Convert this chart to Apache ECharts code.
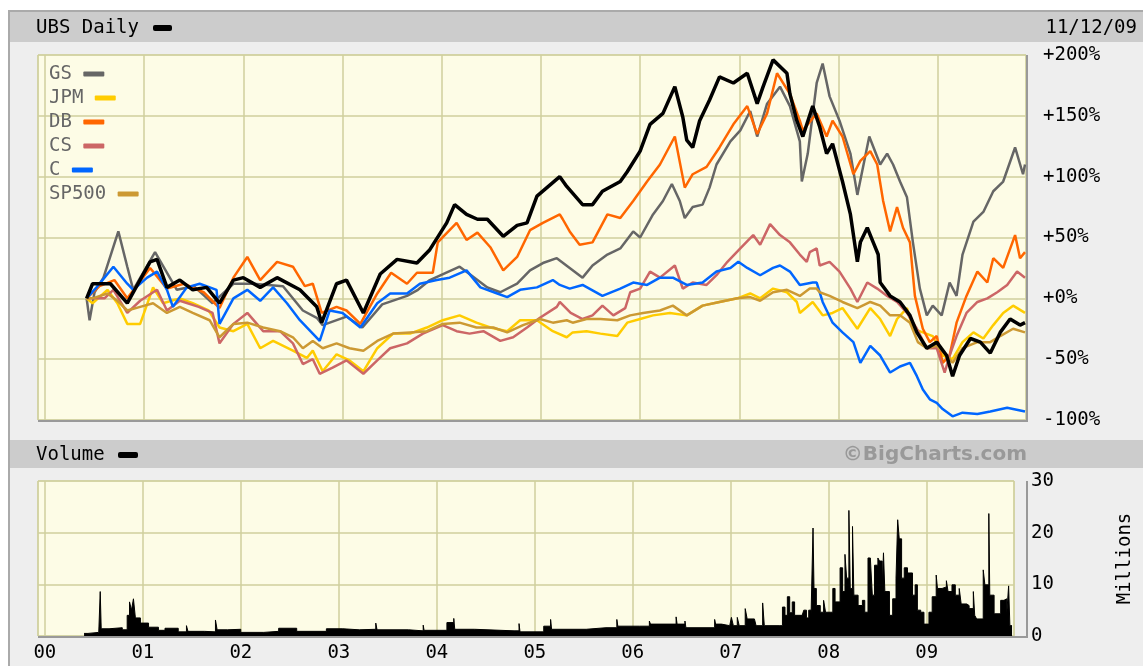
<!DOCTYPE html>
<html>
<head>
<meta charset="utf-8">
<title>UBS Daily</title>
<script src="https://cdn.jsdelivr.net/npm/echarts@6/dist/echarts.min.js"></script>
<style>
  html, body { margin: 0; padding: 0; background: #fff; }
  #frame { position: absolute; left: 8px; top: 10px; width: 1140px; height: 660px;
           background: #eeeeee; border-left: 2px solid #aaa; border-top: 2px solid #aaa; }
  #chart { position: absolute; left: 0; top: 0; width: 1143px; height: 666px; }
</style>
</head>
<body>
<div id="frame"></div>
<div id="chart"></div>
<script>
// percent change since listing, [decimal year, %]
const ubs = [[2000.42,0],[2000.48,12],[2000.66,12],[2000.83,-4],[2001.06,30],[2001.13,32],[2001.23,9],[2001.36,15],[2001.49,7],[2001.63,9],[2001.76,-4],[2001.90,15],[2002.00,17],[2002.17,9],[2002.34,17],[2002.57,7],[2002.74,-7],[2002.79,-20],[2002.94,12],[2003.04,15],[2003.21,-12],[2003.38,20],[2003.55,32],[2003.75,29],[2003.88,40],[2004.05,62],[2004.13,77],[2004.25,69],[2004.36,65],[2004.46,65],[2004.62,51],[2004.76,60],[2004.86,62],[2004.96,84],[2005.19,100],[2005.26,92],[2005.42,77],[2005.52,77],[2005.62,88],[2005.80,96],[2005.87,104],[2006.00,121],[2006.10,143],[2006.23,152],[2006.35,174],[2006.43,149],[2006.47,130],[2006.53,124],[2006.60,146],[2006.70,163],[2006.80,182],[2006.94,177],[2007.08,185],[2007.18,160],[2007.24,174],[2007.34,196],[2007.48,185],[2007.51,168],[2007.58,146],[2007.64,133],[2007.74,158],[2007.81,141],[2007.88,119],[2007.94,127],[2008.04,96],[2008.12,69],[2008.19,30],[2008.22,46],[2008.29,58],[2008.35,46],[2008.40,36],[2008.42,13],[2008.52,2],[2008.62,-3],[2008.72,-14],[2008.79,-28],[2008.89,-41],[2008.99,-36],[2009.09,-47],[2009.15,-64],[2009.22,-47],[2009.33,-33],[2009.43,-36],[2009.53,-45],[2009.63,-28],[2009.73,-17],[2009.83,-22],[2009.88,-20]];

const gs = [[2000.42,0],[2000.45,-18],[2000.50,5],[2000.59,17],[2000.74,55],[2000.83,26],[2000.89,7],[2001.11,38],[2001.33,7],[2001.50,10],[2001.69,-4],[2001.90,12],[2002.10,12],[2002.40,10],[2002.60,-10],[2002.74,-16],[2002.80,-22],[2003.04,-15],[2003.20,-24],[2003.40,-5],[2003.65,2],[2003.76,7],[2003.88,15],[2004.18,26],[2004.28,20],[2004.46,9],[2004.59,5],[2004.76,12],[2004.89,23],[2005.02,29],[2005.16,33],[2005.29,25],[2005.42,17],[2005.52,27],[2005.67,36],[2005.80,41],[2005.93,55],[2006.00,50],[2006.13,69],[2006.23,80],[2006.32,94],[2006.40,80],[2006.45,66],[2006.53,75],[2006.63,77],[2006.70,91],[2006.77,110],[2006.91,129],[2007.01,138],[2007.11,154],[2007.18,133],[2007.28,160],[2007.41,174],[2007.51,158],[2007.61,129],[2007.63,96],[2007.69,119],[2007.78,177],[2007.84,193],[2007.91,166],[2008.01,146],[2008.12,119],[2008.19,85],[2008.31,133],[2008.42,110],[2008.49,119],[2008.55,110],[2008.62,96],[2008.69,83],[2008.75,46],[2008.82,8],[2008.89,-14],[2008.95,-6],[2009.04,-14],[2009.12,13],[2009.19,2],[2009.25,36],[2009.36,63],[2009.46,71],[2009.56,88],[2009.66,96],[2009.78,124],[2009.86,102],[2009.88,110]];

const jpm = [[2000.42,0],[2000.48,-4],[2000.63,7],[2000.73,-4],[2000.83,-21],[2000.96,-21],[2001.09,9],[2001.19,-4],[2001.36,0],[2001.49,-4],[2001.65,-10],[2001.76,-24],[2001.90,-27],[2002.04,-21],[2002.17,-41],[2002.30,-35],[2002.50,-43],[2002.64,-49],[2002.70,-43],[2002.80,-60],[2002.94,-46],[2003.07,-51],[2003.21,-60],[2003.35,-41],[2003.51,-29],[2003.68,-29],[2003.85,-24],[2004.01,-18],[2004.18,-14],[2004.35,-20],[2004.49,-24],[2004.66,-27],[2004.79,-18],[2004.96,-18],[2005.12,-27],[2005.26,-32],[2005.32,-28],[2005.46,-27],[2005.60,-29],[2005.77,-31],[2005.87,-20],[2006.00,-17],[2006.13,-14],[2006.30,-12],[2006.47,-14],[2006.63,-6],[2006.80,-3],[2006.98,0],[2007.11,4],[2007.21,0],[2007.34,8],[2007.48,5],[2007.58,-3],[2007.61,-12],[2007.74,-3],[2007.84,-14],[2007.94,-12],[2008.04,-8],[2008.19,-25],[2008.32,-8],[2008.42,-17],[2008.52,-31],[2008.59,-17],[2008.69,-8],[2008.75,-25],[2008.85,-28],[2008.95,-31],[2009.05,-47],[2009.15,-50],[2009.25,-36],[2009.36,-28],[2009.46,-33],[2009.56,-22],[2009.66,-12],[2009.76,-6],[2009.88,-12]];

const db = [[2000.42,0],[2000.55,10],[2000.70,15],[2000.83,0],[2001.06,25],[2001.23,8],[2001.40,12],[2001.60,5],[2001.76,-8],[2001.90,17],[2002.04,34],[2002.17,15],[2002.34,30],[2002.50,26],[2002.62,10],[2002.70,12],[2002.79,-12],[2002.94,-7],[2003.04,-10],[2003.18,-21],[2003.35,4],[2003.49,21],[2003.65,12],[2003.75,21],[2003.91,21],[2003.96,46],[2004.15,62],[2004.25,48],[2004.36,54],[2004.49,42],[2004.62,23],[2004.76,34],[2004.89,56],[2005.02,62],[2005.19,69],[2005.22,65],[2005.29,55],[2005.39,44],[2005.52,46],[2005.67,69],[2005.80,66],[2005.93,80],[2006.07,96],[2006.20,110],[2006.35,133],[2006.45,91],[2006.53,102],[2006.67,108],[2006.80,124],[2006.94,143],[2007.08,158],[2007.18,135],[2007.28,152],[2007.38,185],[2007.51,168],[2007.61,146],[2007.64,138],[2007.78,152],[2007.88,133],[2007.94,146],[2008.04,133],[2008.15,102],[2008.22,113],[2008.32,121],[2008.39,110],[2008.45,80],[2008.52,55],[2008.59,75],[2008.65,58],[2008.72,46],[2008.77,2],[2008.85,-25],[2008.92,-36],[2008.99,-31],[2009.05,-53],[2009.12,-47],[2009.19,-20],[2009.29,2],[2009.40,22],[2009.50,13],[2009.56,33],[2009.66,25],[2009.78,52],[2009.83,33],[2009.88,38]];

const cs = [[2000.42,0],[2000.60,0],[2000.69,7],[2000.83,-12],[2000.96,-2],[2001.13,7],[2001.23,-10],[2001.36,-2],[2001.55,-7],[2001.69,-12],[2001.76,-37],[2001.90,-21],[2002.04,-12],[2002.20,-27],[2002.37,-27],[2002.50,-37],[2002.60,-54],[2002.70,-50],[2002.77,-62],[2002.90,-57],[2003.04,-51],[2003.21,-62],[2003.35,-51],[2003.48,-41],[2003.65,-37],[2003.81,-29],[2004.01,-22],[2004.15,-27],[2004.28,-29],[2004.42,-27],[2004.59,-35],[2004.72,-32],[2004.86,-24],[2004.99,-16],[2005.16,-7],[2005.19,-3],[2005.30,-12],[2005.42,-17],[2005.52,-14],[2005.62,-6],[2005.73,-14],[2005.85,-8],[2005.90,5],[2006.00,8],[2006.10,22],[2006.20,17],[2006.35,27],[2006.43,8],[2006.53,13],[2006.67,11],[2006.77,19],[2006.88,30],[2007.01,41],[2007.14,52],[2007.21,44],[2007.31,61],[2007.41,52],[2007.51,46],[2007.61,36],[2007.68,30],[2007.71,38],[2007.78,41],[2007.81,27],[2007.91,30],[2008.01,22],[2008.12,8],[2008.19,-3],[2008.29,13],[2008.39,8],[2008.49,2],[2008.59,-3],[2008.69,-12],[2008.79,-25],[2008.89,-41],[2008.99,-41],[2009.07,-61],[2009.12,-47],[2009.19,-31],[2009.29,-12],[2009.40,-3],[2009.50,0],[2009.60,5],[2009.70,11],[2009.80,22],[2009.88,17]];

const citi = [[2000.42,0],[2000.52,9],[2000.69,26],[2000.83,12],[2000.89,7],[2001.03,17],[2001.13,22],[2001.23,7],[2001.29,-7],[2001.43,9],[2001.56,12],[2001.73,7],[2001.76,-21],[2001.90,0],[2002.04,7],[2002.17,-2],[2002.30,9],[2002.44,-4],[2002.57,-18],[2002.70,-29],[2002.77,-35],[2002.87,-10],[2003.00,-12],[2003.18,-24],[2003.35,-4],[2003.48,4],[2003.65,4],[2003.78,12],[2003.95,15],[2004.08,17],[2004.25,23],[2004.39,9],[2004.56,4],[2004.66,1],[2004.79,7],[2004.96,9],[2005.12,15],[2005.19,11],[2005.29,8],[2005.42,11],[2005.62,2],[2005.80,8],[2005.93,13],[2006.07,11],[2006.20,17],[2006.33,17],[2006.47,11],[2006.63,13],[2006.77,22],[2006.91,25],[2006.99,30],[2007.08,25],[2007.21,19],[2007.34,25],[2007.41,27],[2007.51,22],[2007.61,11],[2007.74,13],[2007.78,13],[2007.84,-3],[2007.94,-20],[2008.04,-28],[2008.15,-36],[2008.22,-53],[2008.32,-39],[2008.42,-47],[2008.52,-61],[2008.62,-56],[2008.72,-53],[2008.79,-64],[2008.85,-75],[2008.92,-83],[2008.99,-86],[2009.05,-91],[2009.15,-97],[2009.25,-94],[2009.40,-95],[2009.53,-93],[2009.70,-90],[2009.88,-93]];

const sp500 = [[2000.42,0],[2000.48,0],[2000.63,4],[2000.73,-2],[2000.83,-10],[2000.96,-7],[2001.09,-4],[2001.23,-12],[2001.36,-7],[2001.49,-12],[2001.66,-18],[2001.76,-32],[2001.90,-21],[2002.04,-20],[2002.20,-24],[2002.37,-27],[2002.50,-32],[2002.60,-41],[2002.70,-35],[2002.80,-41],[2002.94,-37],[2003.07,-41],[2003.21,-43],[2003.35,-35],[2003.51,-29],[2003.68,-28],[2003.85,-27],[2004.01,-21],[2004.18,-20],[2004.35,-24],[2004.52,-24],[2004.66,-28],[2004.82,-22],[2004.99,-17],[2005.12,-20],[2005.26,-18],[2005.32,-20],[2005.46,-17],[2005.60,-17],[2005.77,-18],[2005.90,-14],[2006.03,-12],[2006.20,-10],[2006.33,-6],[2006.47,-14],[2006.63,-6],[2006.80,-3],[2006.98,0],[2007.11,1],[2007.21,-2],[2007.34,5],[2007.48,7],[2007.61,2],[2007.71,8],[2007.78,8],[2007.81,5],[2007.91,2],[2008.04,-3],[2008.19,-8],[2008.32,-3],[2008.42,-6],[2008.52,-14],[2008.62,-14],[2008.72,-20],[2008.80,-36],[2008.89,-41],[2008.99,-39],[2009.09,-47],[2009.15,-53],[2009.25,-41],[2009.40,-36],[2009.53,-36],[2009.63,-31],[2009.76,-25],[2009.88,-28]];

// UBS volume, millions of shares, [decimal year, value]
const volume = [[2000.40,0.5],[2000.44,0.7],[2000.55,1.0],[2000.565,8.6],[2000.575,1.4],[2000.655,1.6],[2000.79,1.2],[2000.84,4.0],[2000.864,6.6],[2000.884,5.0],[2000.904,7.2],[2000.924,3.5],[2000.975,2.5],[2001.058,1.7],[2001.159,1.1],[2001.226,1.5],[2001.361,0.8],[2001.445,2.0],[2001.46,0.9],[2001.63,0.8],[2001.741,3.1],[2001.758,1.2],[2001.865,1.3],[2001.999,0.7],[2002.235,0.9],[2002.386,1.5],[2002.57,0.9],[2002.873,1.4],[2003.041,1.2],[2003.209,1.3],[2003.377,2.5],[2003.39,1.2],[2003.71,1.0],[2003.861,2.1],[2003.87,1.1],[2004.103,2.6],[2004.173,3.4],[2004.183,1.3],[2004.385,1.0],[2004.788,1.0],[2004.839,2.4],[2004.849,0.8],[2005.091,1.9],[2005.161,3.2],[2005.171,1.3],[2005.524,1.6],[2005.726,1.6],[2005.837,3.2],[2005.847,1.9],[2006.069,1.9],[2006.169,2.9],[2006.18,2.3],[2006.442,3.7],[2006.452,2.3],[2006.532,2.9],[2006.542,1.6],[2006.835,3.2],[2006.845,2.3],
  [2006.905,2.0],[2006.989,2.0],[2007.006,3.6],[2007.026,2.0],[2007.066,3.6],[2007.086,2.0],[2007.147,5.3],[2007.167,3.3],[2007.241,3.3],[2007.258,2.0],[2007.325,6.4],[2007.342,2.0],[2007.493,2.0],[2007.527,5.6],[2007.553,4.0],[2007.577,7.6],[2007.601,4.5],[2007.627,6.6],[2007.651,4.0],[2007.728,4.0],[2007.745,5.0],[2007.772,3.5],[2007.795,5.0],[2007.819,4.0],[2007.839,20.9],[2007.849,9.2],[2007.873,5.9],[2007.913,4.6],[2007.947,6.9],[2007.967,4.6],[2008.014,4.6],[2008.041,9.2],[2008.064,6.6],[2008.115,13.2],[2008.141,8.6],[2008.165,15.8],[2008.182,11.2],[2008.205,24.3],[2008.219,9.2],[2008.242,21.2],[2008.256,7.9],[2008.299,5.9],[2008.343,6.9],[2008.367,4.6],[2008.400,15.1],[2008.424,15.3],[2008.444,7.9],[2008.467,13.7],[2008.501,15.1],[2008.518,14.5],[2008.545,9.0],[2008.558,16.1],[2008.572,8.6],[2008.619,4.0],[2008.652,7.2],[2008.686,11.2],[2008.703,22.5],[2008.719,18.8],[2008.743,11.2],[2008.770,13.2],[2008.803,12.2],[2008.827,12.2],[2008.854,7.9],[2008.881,9.9],[2008.904,5.0],[2008.938,4.6],[2008.971,2.3],[2009.022,4.6],[2009.055,7.6],[2009.096,11.8],[2009.109,9.2],[2009.156,9.5],[2009.200,10.7],[2009.217,8.6],[2009.257,9.9],[2009.291,7.9],[2009.331,9.2],[2009.351,6.2],[2009.408,5.9],[2009.432,5.3],[2009.475,8.6],[2009.489,4.0],[2009.509,3.3],[2009.543,3.3],[2009.576,12.8],[2009.593,9.9],[2009.633,23.7],[2009.643,7.9],[2009.687,4.3],[2009.727,4.3],[2009.754,6.9],[2009.788,7.2],[2009.815,4.0],[2009.835,9.7],[2009.848,2.0],[2009.87,2.0]];

const yearLabels = ['00', '01', '02', '03', '04', '05', '06', '07', '08', '09'];
const pctLabels = ['-100%', '-50%', '+0%', '+50%', '+100%', '+150%', '+200%'];
const volLabels = ['0', '10', '20', '30'];
const compNames = ['GS', 'JPM', 'DB', 'CS', 'C', 'SP500'];
const compColors = ['#666666', '#ffcc00', '#ff6600', '#cc6666', '#0066ff', '#cc9933'];
const compData = [gs, jpm, db, cs, citi, sp500];

const FONT = 'DejaVu Sans Mono';
const GRID_LINE = '#cfcf9c';
const PLOT_BG = '#fdfce6';

const chart = echarts.init(document.getElementById('chart'));

// legend dash drawn after the name, in the series colour
const legendRich = {};
compNames.forEach(function (n, i) {
  legendRich[n] = { width: 21, height: 5, backgroundColor: compColors[i], borderRadius: 1 };
});

function yearLabel(v) {
  const i = Math.round(v - 2000);
  if (Math.abs(v - 2000 - i) > 1e-6 || i < 0 || i >= yearLabels.length) return '';
  return yearLabels[i];
}

const xCommon = {
  type: 'value', min: 1999.93, max: 2009.89, splitNumber: 10,
  axisLine: { show: false }, axisTick: { show: false },
  splitLine: { show: true, lineStyle: { color: GRID_LINE, width: 1.5 } }
};

const series = compNames.map(function (n, i) {
  return {
    name: n, type: 'line', data: compData[i], xAxisIndex: 0, yAxisIndex: 0,
    symbol: 'none', showSymbol: false, silent: true,
    lineStyle: { color: compColors[i], width: 2.5 }, itemStyle: { color: compColors[i] }
  };
});
series.push({
  name: 'UBS', type: 'line', data: ubs, xAxisIndex: 0, yAxisIndex: 0,
  symbol: 'none', showSymbol: false, silent: true,
  lineStyle: { color: '#000', width: 3.5 }, z: 5
});
series.push({
  name: 'Volume', type: 'line', step: 'end', data: volume, xAxisIndex: 1, yAxisIndex: 1,
  symbol: 'none', showSymbol: false, silent: true,
  lineStyle: { color: '#000', width: 1 }, areaStyle: { color: '#000', opacity: 1 }
});

const option = {
  animation: false,
  grid: [
    { left: 38, top: 55, width: 988, height: 365, show: true, backgroundColor: PLOT_BG, borderColor: GRID_LINE, borderWidth: 1 },
    { left: 38, top: 481, width: 988, height: 155, show: true, backgroundColor: PLOT_BG, borderColor: GRID_LINE, borderWidth: 1 }
  ],
  xAxis: [
    Object.assign({}, xCommon, { gridIndex: 0, axisLabel: { show: false } }),
    Object.assign({}, xCommon, {
      gridIndex: 1,
      axisLabel: { show: true, formatter: yearLabel, margin: 8, fontFamily: FONT, fontSize: 19, color: '#000' }
    })
  ],
  yAxis: [
    {
      type: 'value', gridIndex: 0, position: 'right', min: -100, max: 200, interval: 50,
      axisLine: { show: false }, axisTick: { show: false },
      splitLine: { lineStyle: { color: GRID_LINE, width: 1.5 } },
      axisLabel: { margin: 17, fontFamily: FONT, fontSize: 19, color: '#000',
        formatter: function (v, i) { return pctLabels[i]; } }
    },
    {
      type: 'value', gridIndex: 1, position: 'right', min: 0, max: 30, interval: 10,
      axisLine: { show: false }, axisTick: { show: false },
      splitLine: { lineStyle: { color: GRID_LINE, width: 1.5 } },
      axisLabel: { margin: 17, fontFamily: FONT, fontSize: 19, color: '#000',
        formatter: function (v, i) { return volLabels[i]; } },
      name: 'Millions', nameLocation: 'middle', nameRotate: 90, nameGap: 102,
      nameTextStyle: { fontFamily: FONT, fontSize: 19, color: '#000' }
    }
  ],
  legend: {
    data: compNames,
    orient: 'vertical', left: 39, top: 59, align: 'left',
    icon: 'rect', itemWidth: 0, itemHeight: 0, itemGap: 4,
    selectedMode: false,
    formatter: function (name) { return name + ' {' + name + '| }'; },
    textStyle: { fontFamily: FONT, fontSize: 19, color: '#666', lineHeight: 20, rich: legendRich }
  },
  series: series,
  graphic: [
    { type: 'rect', z: 1, shape: { x: 10, y: 12, width: 1133, height: 30 }, style: { fill: '#cccccc' } },
    { type: 'rect', z: 1, shape: { x: 10, y: 440, width: 1133, height: 28 }, style: { fill: '#cccccc' } },
    { type: 'text', z: 100, style: { text: 'UBS Daily', x: 36, y: 28, fill: '#000', font: '19px ' + FONT, verticalAlign: 'middle' } },
    { type: 'rect', z: 100, shape: { x: 153, y: 25, width: 19, height: 6, r: 2 }, style: { fill: '#000' } },
    { type: 'text', z: 100, style: { text: '11/12/09', x: 1137, y: 28, fill: '#000', font: '19px ' + FONT, align: 'right', verticalAlign: 'middle' } },
    { type: 'text', z: 100, style: { text: 'Volume', x: 36, y: 455, fill: '#000', font: '19px ' + FONT, verticalAlign: 'middle' } },
    { type: 'rect', z: 100, shape: { x: 118, y: 452, width: 20, height: 6, r: 2 }, style: { fill: '#000' } },
    { type: 'text', z: 100, style: { text: '\u00a9BigCharts.com', x: 1027, y: 455, fill: '#999999', font: 'bold 20px DejaVu Sans', align: 'right', verticalAlign: 'middle' } },
    { type: 'polyline', z: 100, shape: { points: [[1027, 55], [1027, 421], [38, 421]] }, style: { stroke: '#999', lineWidth: 2, fill: null } },
    { type: 'polyline', z: 100, shape: { points: [[1027, 481], [1027, 637], [38, 637]] }, style: { stroke: '#999', lineWidth: 2, fill: null } }
  ]
};

chart.setOption(option);
</script>
</body>
</html>
